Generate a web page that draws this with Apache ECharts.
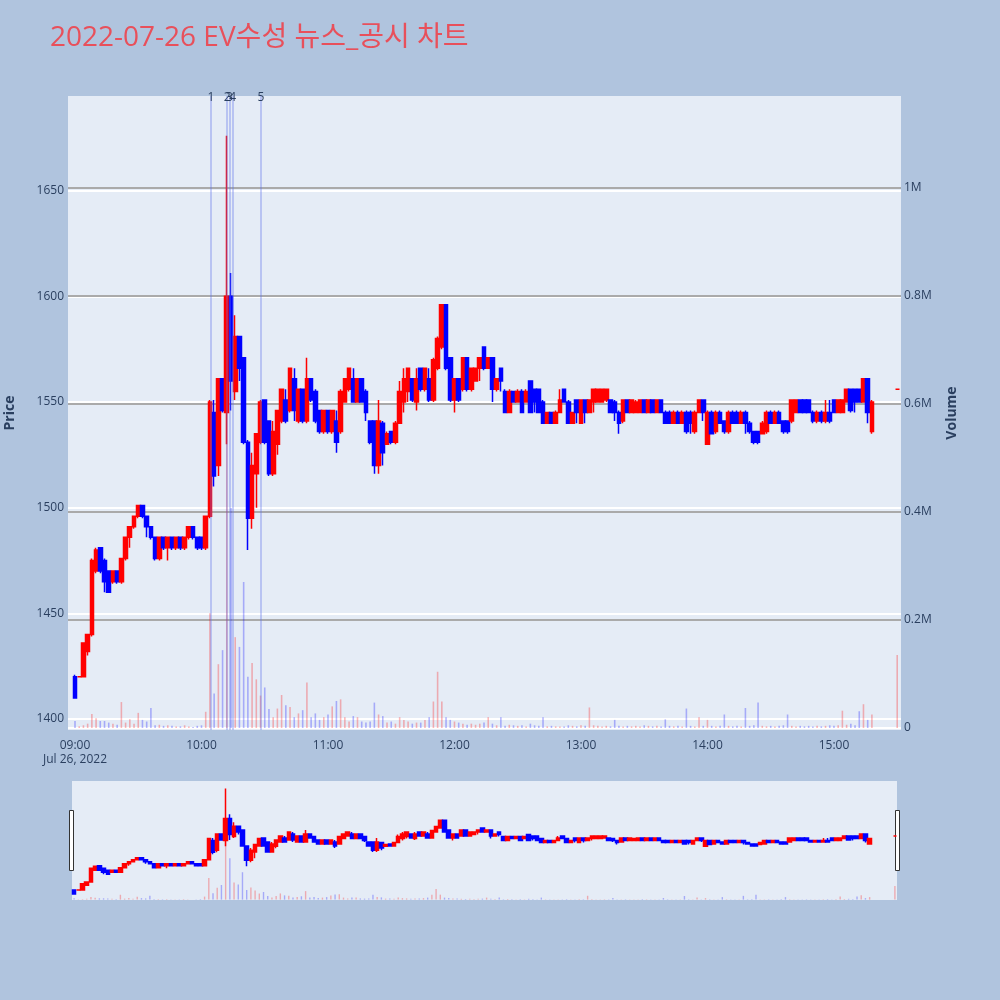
<!DOCTYPE html>
<html><head><meta charset="utf-8">
<script src="https://cdn.jsdelivr.net/npm/echarts@6/dist/echarts.min.js"></script>
<style>html,body{margin:0;padding:0;background:#b0c4de}#main{width:1000px;height:1000px}</style>
</head><body><div id="main"></div>
<script>
// ---- data (2-minute bars) ----
const times = [];
for (let m = 0; m <= 378; m += 2) {
  const h = 9 + Math.floor(m / 60), mm = m % 60;
  times.push(String(h).padStart(2, '0') + ':' + String(mm).padStart(2, '0'));
}
times.push('15:30');

const open = [
1420,1420,1420,1432,1440,1470,1481,1475,1470,1465,
1470,1465,1476,1486,1491,1496,1501,1496,1491,1486,
1476,1486,1481,1486,1481,1486,1481,1486,1491,1486,
1486,1481,1496,1545,1520,1561,1545,1600,1555,1581,
1571,1531,1495,1516,1531,1551,1541,1516,1530,1541,
1551,1546,1561,1541,1556,1541,1561,1555,1546,1536,
1546,1536,1541,1536,1550,1556,1561,1550,1561,1555,
1541,1541,1520,1540,1530,1536,1531,1540,1550,1555,
1561,1550,1566,1556,1561,1551,1566,1576,1596,1571,
1551,1561,1556,1571,1556,1560,1566,1576,1566,1571,
1556,1566,1555,1545,1555,1550,1555,1550,1560,1556,
1556,1550,1540,1545,1540,1545,1556,1550,1540,1551,
1540,1551,1545,1550,1550,1550,1551,1551,1550,1545,
1541,1551,1545,1545,1545,1551,1545,1551,1545,1551,
1545,1545,1540,1545,1540,1545,1545,1536,1545,1551,
1530,1545,1536,1545,1541,1536,1545,1545,1540,1545,
1540,1536,1536,1535,1536,1545,1540,1545,1541,1541,
1541,1545,1551,1551,1551,1545,1541,1545,1541,1545,
1551,1545,1545,1550,1556,1556,1556,1550,1561,1536,
1556];
const close = [
1410,1420,1436,1440,1475,1480,1470,1465,1460,1470,
1465,1476,1486,1491,1496,1501,1496,1491,1486,1476,
1486,1481,1486,1481,1486,1481,1486,1491,1486,1481,
1481,1496,1550,1515,1561,1546,1600,1560,1581,1566,
1531,1495,1520,1535,1550,1531,1516,1536,1546,1556,
1541,1566,1546,1556,1541,1561,1551,1541,1536,1546,
1536,1546,1531,1555,1561,1566,1550,1561,1550,1545,
1531,1520,1541,1526,1535,1531,1540,1555,1561,1566,
1551,1561,1556,1566,1551,1570,1580,1596,1566,1551,
1561,1551,1571,1556,1566,1566,1571,1566,1571,1556,
1561,1560,1545,1555,1550,1555,1545,1555,1545,1550,
1545,1540,1545,1540,1545,1551,1550,1540,1545,1545,
1551,1545,1551,1556,1556,1556,1556,1545,1545,1540,
1551,1545,1551,1550,1551,1545,1551,1545,1551,1545,
1540,1540,1545,1540,1545,1536,1540,1545,1551,1545,
1545,1535,1545,1540,1536,1545,1540,1540,1545,1540,
1536,1531,1531,1540,1545,1540,1545,1540,1536,1536,
1551,1551,1545,1545,1545,1541,1545,1541,1545,1541,
1545,1551,1551,1556,1546,1550,1550,1561,1545,1550,
1556];
const low = [
1410,1420,1420,1430,1439,1469,1469,1460,1460,1464,
1464,1464,1475,1481,1490,1495,1495,1486,1485,1475,
1475,1480,1475,1480,1480,1480,1480,1485,1485,1480,
1480,1480,1495,1510,1515,1545,1530,1546,1551,1560,
1530,1480,1490,1500,1530,1530,1515,1515,1525,1540,
1540,1545,1541,1540,1540,1540,1550,1540,1535,1535,
1535,1535,1526,1535,1550,1555,1550,1550,1550,1541,
1530,1516,1516,1520,1530,1530,1530,1540,1545,1550,
1550,1546,1555,1555,1550,1550,1565,1575,1565,1550,
1545,1550,1555,1555,1555,1560,1560,1565,1566,1550,
1555,1555,1545,1545,1550,1550,1545,1550,1545,1545,
1545,1540,1540,1540,1540,1545,1550,1540,1540,1540,
1540,1540,1545,1545,1550,1550,1550,1545,1541,1535,
1540,1545,1545,1545,1545,1545,1545,1545,1545,1545,
1540,1540,1540,1540,1540,1535,1535,1535,1545,1541,
1530,1535,1535,1540,1535,1535,1540,1540,1540,1535,
1535,1530,1530,1535,1535,1540,1540,1540,1535,1535,
1540,1545,1545,1545,1545,1540,1540,1540,1540,1540,
1545,1545,1545,1550,1545,1545,1550,1550,1540,1535,
1556];
const high = [
1421,1420,1436,1440,1476,1481,1481,1476,1470,1470,
1470,1476,1486,1491,1496,1501,1501,1496,1491,1486,
1486,1486,1486,1486,1486,1486,1486,1491,1491,1486,
1486,1496,1551,1551,1561,1561,1676,1611,1591,1581,
1571,1532,1526,1535,1551,1551,1541,1541,1546,1556,
1556,1566,1566,1556,1556,1571,1561,1556,1546,1546,
1546,1546,1546,1556,1561,1566,1566,1561,1561,1556,
1541,1541,1551,1541,1536,1536,1541,1560,1566,1566,
1561,1566,1566,1566,1566,1571,1581,1596,1596,1571,
1561,1561,1571,1571,1566,1566,1571,1576,1571,1571,
1561,1566,1556,1556,1555,1556,1556,1556,1560,1556,
1556,1551,1545,1545,1546,1556,1556,1551,1545,1551,
1551,1551,1551,1556,1556,1556,1556,1551,1551,1546,
1551,1551,1551,1551,1551,1551,1551,1551,1551,1551,
1546,1546,1546,1546,1546,1546,1546,1546,1551,1551,
1546,1546,1546,1546,1541,1546,1546,1546,1546,1546,
1541,1536,1536,1541,1546,1546,1546,1546,1541,1541,
1551,1551,1551,1551,1551,1546,1546,1546,1551,1551,
1551,1551,1551,1556,1556,1556,1556,1561,1561,1551,
1556];
// volume in thousands of shares
const volumeK = [
13,3,5,8,26,18,13,13,10,8,
6,48,10,16,8,28,15,12,37,5,
6,4,5,4,3,3,5,3,2,4,
5,30,212,64,118,144,600,407,168,150,
270,95,120,90,60,75,35,20,36,61,
42,39,20,27,33,84,20,27,15,20,
25,40,50,53,20,12,22,20,12,10,
12,47,25,22,10,12,8,20,15,12,
8,10,10,15,20,49,104,49,20,15,
12,10,8,6,8,6,8,10,20,8,
5,20,4,6,5,4,5,3,8,5,
4,20,3,4,3,3,3,5,4,3,
5,4,38,5,4,3,4,3,15,4,
3,4,3,4,3,5,4,3,4,3,
16,4,3,4,3,36,4,3,20,4,
15,4,3,4,25,4,3,4,3,37,
4,5,47,4,3,4,3,4,5,25,
4,3,4,3,4,3,4,3,4,5,
4,5,32,6,8,5,31,44,15,25,
135];
const newsTimes = ['10:04:30', '10:12:12', '10:13:12', '10:14:48', '10:28:12'];
const newsLabels = ['1', '2', '3', '4', '5'];
const priceTicks = [1400, 1450, 1500, 1550, 1600, 1650];
const volumeTicks = [0, 200000, 400000, 600000, 800000, 1000000];
const timeTicks = ['09:00', '10:00', '11:00', '12:00', '13:00', '14:00', '15:00'];
const dateLabel = 'Jul 26, 2022';

// ---- helpers ----
function toMin(s) {
  const p = s.split(':').map(Number);
  return (p[0] - 9) * 60 + p[1] + (p[2] || 0) / 60;
}
function minLabel(v) {
  const h = 9 + Math.floor(v / 60), m = Math.round(v % 60);
  return String(h).padStart(2, '0') + ':' + String(m).padStart(2, '0');
}
const xs = times.map(toMin);
const candleData = xs.map((x, i) => [x, open[i], close[i], low[i], high[i]]);
const isUp = xs.map((x, i) => close[i] > open[i] || (close[i] === open[i] && (i === 0 || close[i - 1] <= close[i])));
const volData = xs.map((x, i) => ({
  value: [x, volumeK[i] * 1000],
  itemStyle: { color: isUp[i] ? 'rgba(255,0,0,0.28)' : 'rgba(0,0,255,0.28)' }
}));

const FONT = "'Open Sans', 'Noto Sans CJK KR', sans-serif";
const TXT = '#2a3f5f';
const PMIN = 1394.8, PMAX = 1694.8, VMIN = -3700, VMAX = 1168800;

const chart = echarts.init(document.getElementById('main'));
chart.setOption({
  animation: false,
  backgroundColor: '#b0c4de',
  textStyle: { fontFamily: FONT },
  title: {
    text: '2022-07-26 EV수성 뉴스_공시 차트',
    left: 45, top: 19, padding: 5,
    textStyle: { fontFamily: FONT, fontSize: 28, fontWeight: 'normal', color: '#e8505b' }
  },
  grid: [
    { left: 68, right: 99, top: 96, bottom: 270, show: true, backgroundColor: '#e5ecf6', borderWidth: 0, outerBoundsMode: 'none', containLabel: false },
    { left: 72, width: 825, top: 781, height: 119, show: true, backgroundColor: '#e5ecf6', borderWidth: 0, outerBoundsMode: 'none', containLabel: false }
  ],
  xAxis: [
    {
      type: 'value', gridIndex: 0, min: -3.32, max: 391.8,
      axisLine: { show: false }, axisTick: { show: false, customValues: timeTicks.map(toMin) },
      splitLine: { show: false },
      axisLabel: {
        customValues: timeTicks.map(toMin), color: TXT, fontSize: 12, margin: 9, lineHeight: 14,
        formatter: v => v === 0 ? minLabel(v) + '\n' + dateLabel : minLabel(v)
      }
    },
    {
      type: 'value', gridIndex: 1, min: -1, max: 391, show: false
    }
  ],
  yAxis: [
    {
      type: 'value', gridIndex: 0, min: PMIN, max: PMAX, position: 'left',
      name: 'Price', nameLocation: 'middle', nameGap: 51, nameRotate: 90,
      nameTextStyle: { color: TXT, fontSize: 14, fontWeight: 'bold', fontFamily: FONT },
      axisLine: { show: false }, axisTick: { show: false, customValues: priceTicks },
      axisLabel: { customValues: priceTicks, color: TXT, fontSize: 12, margin: 4, formatter: v => String(v) },
      splitLine: { show: true, lineStyle: { color: '#ffffff', width: 2 } }
    },
    {
      type: 'value', gridIndex: 0, min: VMIN, max: VMAX, position: 'right',
      name: 'Volume', nameLocation: 'middle', nameGap: 44, nameRotate: 90,
      nameTextStyle: { color: TXT, fontSize: 14, fontWeight: 'bold', fontFamily: FONT },
      axisLine: { show: false }, axisTick: { show: false, customValues: volumeTicks },
      axisLabel: {
        customValues: volumeTicks, color: TXT, fontSize: 12, margin: 3,
        formatter: v => v === 0 ? '0' : (v >= 1000000 ? (v / 1000000) + 'M' : (v / 1000000).toFixed(1) + 'M')
      },
      splitLine: { show: true, lineStyle: { color: ['#ffffff', '#aaaaaa', '#aaaaaa', '#aaaaaa', '#aaaaaa', '#aaaaaa'], width: 2 } }
    },
    { type: 'value', gridIndex: 1, min: PMIN, max: PMAX, show: false, splitLine: { show: false } },
    { type: 'value', gridIndex: 1, min: VMIN, max: VMAX, show: false, splitLine: { show: false } }
  ],
  series: [
    {
      type: 'bar', xAxisIndex: 0, yAxisIndex: 1, data: volData, barWidth: 1.6, z: 2, silent: true
    },
    {
      type: 'candlestick', xAxisIndex: 0, yAxisIndex: 0, data: candleData,
      encode: { x: 0, y: [1, 2, 3, 4] }, barWidth: 4.2, z: 3, silent: true,
      itemStyle: { color: '#ff0000', color0: '#0000ff', borderColor: '#ff0000', borderColor0: '#0000ff', borderWidth: 1.5 },
      markLine: {
        silent: true, symbol: ['none', 'none'], animation: false,
        lineStyle: { color: 'rgba(95,115,235,0.45)', width: 1.5, type: 'solid' },
        label: { show: true, position: 'end', distance: -8, formatter: '{b}', color: TXT, fontSize: 12, fontFamily: FONT },
        data: newsTimes.map((t, i) => ({ xAxis: toMin(t), name: newsLabels[i] }))
      }
    },
    {
      type: 'bar', xAxisIndex: 1, yAxisIndex: 3, data: volData, barWidth: 1.4, z: 2, silent: true
    },
    {
      type: 'candlestick', xAxisIndex: 1, yAxisIndex: 2, data: candleData,
      encode: { x: 0, y: [1, 2, 3, 4] }, barWidth: 4, z: 3, silent: true,
      itemStyle: { color: '#ff0000', color0: '#0000ff', borderColor: '#ff0000', borderColor0: '#0000ff', borderWidth: 1.5 }
    }
  ],
  graphic: [
    { type: 'rect', shape: { x: 69.5, y: 810.5, width: 4, height: 60 }, style: { fill: '#ffffff', stroke: '#333333', lineWidth: 1 }, silent: true },
    { type: 'rect', shape: { x: 895.5, y: 810.5, width: 4, height: 60 }, style: { fill: '#ffffff', stroke: '#333333', lineWidth: 1 }, silent: true }
  ]
});
</script>
</body></html>
